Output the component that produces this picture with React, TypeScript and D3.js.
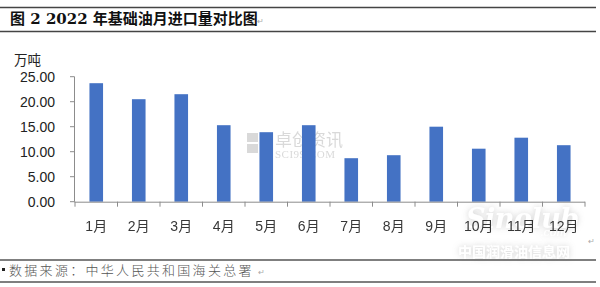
import React from "react";
import * as d3 from "d3";

const months = ["1月", "2月", "3月", "4月", "5月", "6月", "7月", "8月", "9月", "10月", "11月", "12月"];
const imports = [23.7, 20.5, 21.5, 15.3, 13.9, 15.3, 8.7, 9.3, 15.0, 10.6, 12.8, 11.3];
const yTicks = [0, 5, 10, 15, 20, 25];
const title = "图 2 2022 年基础油月进口量对比图";
const unit = "万吨";
const source = "数据来源：中华人民共和国海关总署";

export default function App() {
  const W = 600, H = 287;
  const x = d3.scaleBand<string>().domain(months).range([75, 585]).paddingInner(0.68).paddingOuter(0.34);
  const y = d3.scaleLinear().domain([0, 25]).range([201.7, 76.7]);
  const step = x.step();
  const boundaries = d3.range(months.length + 1).map((i) => 75 + i * step);
  const cjk = "'Noto Sans CJK SC', sans-serif";
  const num = "'Liberation Sans', 'Noto Sans CJK SC', sans-serif";

  return (
    <div style={{ position: "absolute", left: 0, top: 0 }}>
      <svg width={W} height={H} viewBox={`0 0 ${W} ${H}`} style={{ display: "block", background: "#fff" }}>
        <defs>
          <filter id="glow" x="-20%" y="-40%" width="140%" height="180%">
            <feGaussianBlur in="SourceAlpha" stdDeviation="3" result="b" />
            <feFlood floodColor="#b0b0b0" floodOpacity="0.8" />
            <feComposite in2="b" operator="in" result="s" />
            <feMerge>
              <feMergeNode in="s" />
              <feMergeNode in="SourceGraphic" />
            </feMerge>
          </filter>
        </defs>
        {/* title box lines */}
        <line x1={0} x2={596} y1={7.5} y2={7.5} stroke="#444" strokeWidth={1.5} />
        <line x1={0} x2={596} y1={31.5} y2={31.5} stroke="#444" strokeWidth={1.5} />
        <text x={10} y={24} fontFamily="'DejaVu Serif', 'Noto Sans CJK SC', serif" fontWeight="bold" fontSize={15} fill="#111" xmlSpace="preserve">
          {title}
        </text>
        <text x={257} y={24} fontSize={8} fill="#aaa" fontFamily={cjk}>↵</text>

        {/* watermark 卓创资讯 */}
        <g opacity={0.55}>
          <rect x={247} y={133} width={11} height={9} fill="#bbb" />
          <rect x={247} y={144} width={11} height={9} fill="#bbb" />
          <text x={275} y={146} fontFamily={cjk} fontSize={17} fill="#bbb">卓创资讯</text>
          <text x={275} y={158} fontFamily="'Liberation Serif', serif" fontSize={11} fill="#bbb" letterSpacing={0.5}>SCI99.COM</text>
        </g>

        {/* unit */}
        <text x={14} y={65} fontFamily={cjk} fontSize={13.5} fill="#222">{unit}</text>

        {/* y axis */}
        <line x1={74.5} x2={74.5} y1={y(25)} y2={y(0)} stroke="#8c8c8c" strokeWidth={1} />
        {yTicks.map((t) => (
          <g key={t}>
            <line x1={70} x2={74.5} y1={y(t)} y2={y(t)} stroke="#8c8c8c" strokeWidth={1} />
            <text x={55} y={y(t)} dy="0.36em" textAnchor="end" fontFamily={num} fontSize={14} fill="#222">
              {t.toFixed(2)}
            </text>
          </g>
        ))}

        {/* bars */}
        {months.map((m, i) => (
          <rect key={m} x={x(m)} y={y(imports[i])} width={x.bandwidth()} height={y(0) - y(imports[i])} fill="#4472C4" />
        ))}

        {/* x axis */}
        <line x1={74.5} x2={585} y1={y(0) + 0.5} y2={y(0) + 0.5} stroke="#8c8c8c" strokeWidth={1} />
        {boundaries.map((b, i) => (
          <line key={i} x1={b} x2={b} y1={y(0)} y2={y(0) + 5} stroke="#8c8c8c" strokeWidth={1} />
        ))}

        {/* Sinolub watermark */}
        <g filter="url(#glow)" opacity={0.75}>
          <text x={466} y={228} fontFamily="'DejaVu Serif', serif" fontStyle="italic" fontWeight="bold" fontSize={27} fill="#fff" letterSpacing={-0.5}>Sinolub</text>
          <text x={540} y={236} fontFamily="'DejaVu Serif', serif" fontStyle="italic" fontSize={11} fill="#fff">.com</text>
          <text x={458} y={257} fontFamily={cjk} fontWeight="bold" fontSize={14} fill="#fff">中国润滑油信息网</text>
        </g>

        {months.map((m) => (
          <text key={m} x={(x(m) as number) + x.bandwidth() / 2} y={231} textAnchor="middle" fontFamily={num} fontSize={14} fill="#222" opacity={0.9}>
            {m}
          </text>
        ))}
        <text x={588} y={244} fontSize={8} fill="#aaa" fontFamily={cjk}>↵</text>

        {/* footer */}
        <line x1={0} x2={596} y1={260} y2={260} stroke="#555" strokeWidth={1.5} />
        <line x1={0} x2={596} y1={282} y2={282} stroke="#555" strokeWidth={1.5} />
        <rect x={2} y={268} width={3} height={3} fill="#222" />
        <text x={9} y={275} fontFamily={cjk} fontSize={13} fill="#555" letterSpacing={2.3} fontWeight={300}>
          {source}
        </text>
        <text x={258} y={275} fontSize={8} fill="#aaa" fontFamily={cjk}>↵</text>
      </svg>
    </div>
  );
}
